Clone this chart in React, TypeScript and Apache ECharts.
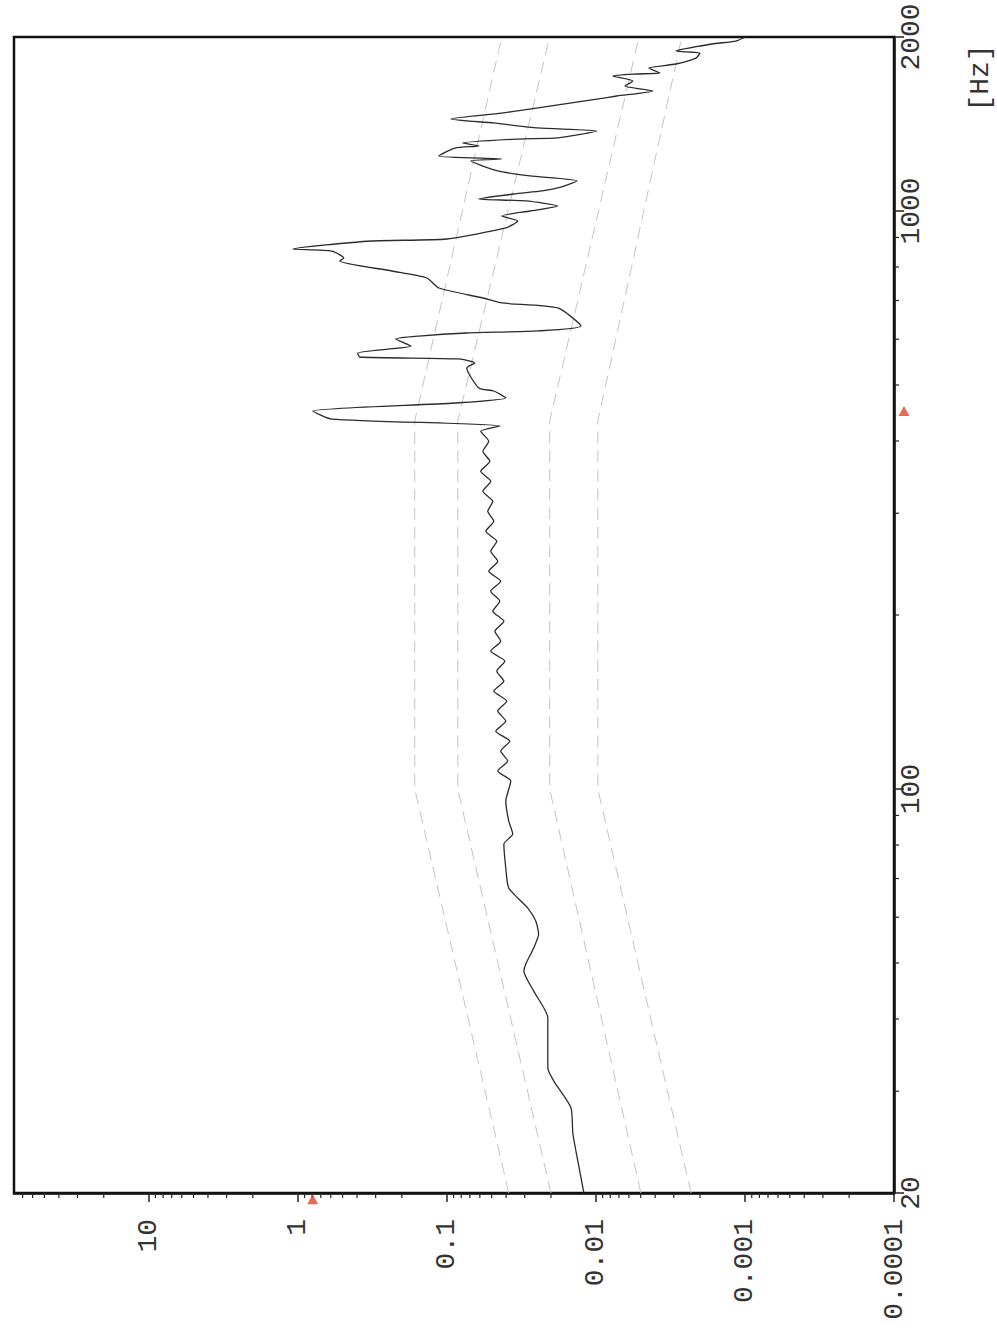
import React, { useEffect, useRef } from "react";
import * as echarts from "echarts";

// Main spectrum: frequency [Hz] and amplitude
const mainFreq = [
  20, 22.7, 25.3, 28.1, 31.2, 32.9, 40.2, 44.7, 48.4, 49.8, 53.1, 56.1, 59.1, 62.2, 67.4, 73.0, 80.3, 83.6, 88.0, 95.3,
  103.2, 107.4, 111.8, 116.3, 121.0, 125.9, 131.1, 136.4, 141.9, 147.7, 153.7, 159.9, 166.4, 173.2, 180.2, 187.5,
  195.1, 203.1, 211.3, 219.9, 228.8, 238.1, 247.8, 257.8, 268.3, 279.2, 290.5, 302.3, 314.6, 327.4, 340.7, 354.5,
  368.9, 383.9, 399.5, 415.7,
  424.6, 436.6, 450.8, 465.4, 474.8, 488.2, 494.1, 535.0, 545.8, 554.6, 559.0, 568.0, 584.0, 600.5, 607.7, 615.1, 620.1,
  632.5, 679.5, 693.2, 707.1, 735.8, 765.7, 787.4, 819.4, 829.2, 852.6, 859.5, 887.4, 894.5, 934.6, 961.0, 980.3, 1000,
  1020, 1041, 1049, 1070, 1083, 1096, 1127, 1150, 1173, 1221, 1230, 1245, 1285, 1296, 1311, 1332, 1338, 1375, 1392,
  1420, 1443, 1477, 1519, 1562, 1581, 1613, 1645, 1678, 1712, 1726, 1733, 1767, 1796, 1839, 1876, 1891, 1945, 1968, 2000,
];
const mainAmp = [
  0.01203, 0.0132, 0.01425, 0.0147, 0.0191, 0.021, 0.021, 0.0261, 0.0304, 0.0295, 0.0261, 0.0242, 0.0253, 0.0286, 0.0384,
  0.0402, 0.0414, 0.0361, 0.0384, 0.0402,
  0.0372, 0.0455, 0.039, 0.0435, 0.0378, 0.0469, 0.0402, 0.0455, 0.0396, 0.0484, 0.0414, 0.0462, 0.0408, 0.0507,
  0.0435, 0.0476, 0.0414, 0.0491, 0.0441, 0.0507, 0.0435, 0.0523, 0.0455, 0.0507, 0.0462, 0.0547, 0.0484, 0.0531,
  0.0491, 0.0573, 0.0507, 0.0592, 0.0514, 0.0573, 0.0523, 0.0592,
  0.0441, 0.591, 0.793, 0.0884, 0.0402, 0.0484, 0.061, 0.0734, 0.0649, 0.0831, 0.384, 0.396, 0.174, 0.22, 0.154, 0.0734,
  0.0245, 0.0126, 0.018, 0.0428, 0.0573, 0.113, 0.136, 0.234, 0.523, 0.491, 0.591, 1.08, 0.319, 0.1, 0.0402, 0.0334,
  0.0428, 0.0277, 0.018, 0.0295, 0.061, 0.0355, 0.023, 0.018, 0.0134, 0.0277, 0.0455, 0.069, 0.0428, 0.113, 0.0884,
  0.061, 0.0781, 0.0334, 0.018, 0.00985, 0.0245, 0.0484, 0.094, 0.0428, 0.0204, 0.00985, 0.00723, 0.00414, 0.00639,
  0.00565, 0.00769, 0.00531, 0.00372, 0.00441, 0.0029, 0.00213, 0.002, 0.0029, 0.00167, 0.00115, 0.000985,
];

// Reference (criterion) curves
const limitFreq = [20, 100, 433, 2000];
const limit1 = [0.0384, 0.164, 0.164, 0.0428];
const limit2 = [0.02, 0.0844, 0.0844, 0.0204];
const limit3 = [0.00499, 0.0204, 0.0204, 0.00514];
const limit4 = [0.0023, 0.0097, 0.0097, 0.00265];

// Cursor markers
const cursorFreq = 450.8;
const cursorAmp = 0.793;

// Axis ranges and ticks
const ampMin = 0.0001;
const ampMax = 80;
const freqMin = 20;
const freqMax = 2000;
const ampDecades = [0.0001, 0.001, 0.01, 0.1, 1, 10];
const minorSteps = [2, 3, 4, 5, 6, 7, 8, 9];
const freqMinorTicks = [30, 40, 50, 60, 70, 80, 90, 200, 300, 400, 500, 600, 700, 800, 900];

const FONT = "'Liberation Mono', 'DejaVu Sans Mono', monospace";

export default function App() {
  const ref = useRef<HTMLDivElement>(null);
  useEffect(() => {
    if (!ref.current) return;
    const chart = echarts.init(ref.current, undefined, { renderer: "svg" });
    const ampMinorTicks = ampDecades
      .flatMap((d) => minorSteps.map((s) => +(d * s).toPrecision(3)))
      .filter((v) => v < ampMax);

    const pair = (fs: number[], as: number[]) => fs.map((f, i) => [as[i], f]);
    const limitStyle = { color: "#c4c4c4", width: 1, type: [12, 7] as any };
    const limitSeries = [limit1, limit2, limit3, limit4].map((l) => ({
      type: "line",
      data: pair(limitFreq, l),
      showSymbol: false,
      lineStyle: limitStyle,
      silent: true,
      z: 1,
    }));

    chart.setOption({
      animation: false,
      backgroundColor: "#ffffff",
      grid: {
        left: 14,
        top: 37,
        width: 880,
        height: 1156,
        show: true,
        borderColor: "#111",
        borderWidth: 2.5,
        backgroundColor: "transparent",
      },
      xAxis: {
        type: "log",
        logBase: 10,
        min: ampMin,
        max: ampMax,
        inverse: true,
        position: "bottom",
        axisLine: { show: true, lineStyle: { color: "#111", width: 2.5 } },
        axisTick: { show: true, inside: false, length: 9, lineStyle: { color: "#222", width: 1.5 } },
        splitLine: { show: false },
        minorTick: { show: false },
        axisLabel: {
          rotate: 90,
          margin: 26,
          fontSize: 28,
          fontFamily: FONT,
          color: "#333",
          showMaxLabel: false,
          formatter: (v: number) => {
            const l = Math.log10(v);
            const e = Math.round(l);
            if (Math.abs(l - e) > 1e-6) return "";
            return e >= 0 ? String(Math.pow(10, e)) : Math.pow(10, e).toFixed(-e);
          },
        },
      },
      yAxis: {
        type: "log",
        logBase: 10,
        min: freqMin,
        max: freqMax,
        position: "right",
        axisLine: { show: true, lineStyle: { color: "#111", width: 2.5 } },
        axisTick: { show: true, inside: false, length: 10, lineStyle: { color: "#222", width: 1.5 } },
        splitLine: { show: false },
        minorTick: { show: false },
        axisLabel: {
          rotate: 90,
          margin: 3,
          fontSize: 28,
          fontFamily: FONT,
          color: "#333",
          formatter: (v: number) => String(Math.round(v)),
        },
      },
      graphic: [
        {
          type: "text",
          x: 980,
          y: 78,
          rotation: Math.PI / 2,
          style: {
            text: "[Hz]",
            font: `28px ${FONT}`,
            fill: "#333",
            align: "center",
            verticalAlign: "middle",
          },
        },
      ],
      series: [
        ...limitSeries,
        {
          type: "line",
          data: pair(mainFreq, mainAmp),
          showSymbol: false,
          smooth: 0.2,
          lineStyle: { color: "#2b2b2b", width: 1.3 },
          z: 3,
        },
        {
          type: "custom",
          clip: false,
          silent: true,
          data: ampMinorTicks.map((v) => [v, freqMin]),
          renderItem: (_p: any, api: any) => {
            const pt = api.coord([api.value(0), freqMin]);
            return {
              type: "line",
              shape: { x1: pt[0], y1: pt[1], x2: pt[0], y2: pt[1] + 5 },
              style: { stroke: "#222", lineWidth: 1.2 },
            };
          },
        },
        {
          type: "custom",
          clip: false,
          silent: true,
          data: freqMinorTicks.map((f) => [ampMin, f]),
          renderItem: (_p: any, api: any) => {
            const pt = api.coord([ampMin, api.value(1)]);
            return {
              type: "line",
              shape: { x1: pt[0], y1: pt[1], x2: pt[0] + 5, y2: pt[1] },
              style: { stroke: "#222", lineWidth: 1.2 },
            };
          },
        },
        {
          type: "scatter",
          clip: false,
          silent: true,
          symbol: "triangle",
          symbolSize: [11, 10],
          itemStyle: { color: "#e2442c" },
          data: [[cursorAmp, 19.5], [0.0000857, cursorFreq]],
          z: 5,
        },
      ],
    });
    return () => chart.dispose();
  }, []);
  return (
    <div
      ref={ref}
      style={{ position: "fixed", left: 0, top: 0, width: 997, height: 1335, background: "#fff" }}
    />
  );
}
